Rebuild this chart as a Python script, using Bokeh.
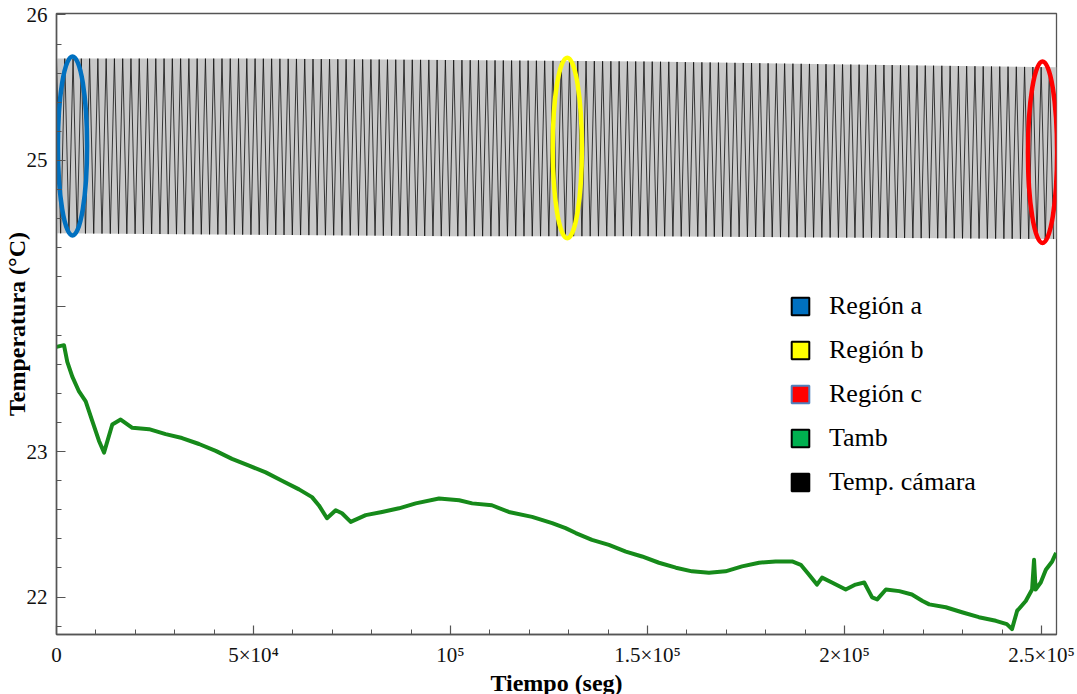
import numpy as np
from bokeh.plotting import figure
from bokeh.models import FixedTicker, Legend, LegendItem, Range1d
from bokeh.embed import file_html
from bokeh.resources import INLINE

# ---------------- data ----------------
# Ambient temperature (green), time in s, temperature in °C
tamb_t = [0, 1900, 2740, 4010, 5710, 7410, 9090, 10790, 12060, 14160,
          16290, 19240, 23480, 27710, 31850, 36170, 40400, 44540, 48860, 53100,
          57230, 61550, 64850, 66600, 68650, 70860, 72460, 74670, 78480, 82610,
          86930, 91170, 97080, 102200, 105500, 110500, 114800, 120700, 125800, 129200,
          131800, 135900, 140200, 144500, 148600, 152900, 157200, 161300, 165600, 169800,
          174000, 178300, 182500, 186700, 188900, 191000, 193000, 194300, 196800, 200300,
          202800, 205000, 207000, 208300, 210500, 213900, 217100, 219800, 221500, 225700,
          229800, 234100, 238400, 241200, 242500, 243800, 246000, 247600, 248100, 248500,
          249800, 251100, 252700, 253700]
tamb_T = [23.719, 23.731, 23.617, 23.515, 23.413, 23.345, 23.209, 23.073, 22.993, 23.186,
          23.220, 23.163, 23.154, 23.120, 23.093, 23.052, 23.005, 22.950, 22.903, 22.857,
          22.800, 22.740, 22.687, 22.630, 22.542, 22.597, 22.576, 22.517, 22.563, 22.585,
          22.610, 22.644, 22.678, 22.665, 22.644, 22.631, 22.585, 22.551, 22.508, 22.474,
          22.440, 22.393, 22.359, 22.313, 22.279, 22.236, 22.202, 22.177, 22.168, 22.177,
          22.211, 22.236, 22.245, 22.245, 22.222, 22.154, 22.086, 22.134, 22.100, 22.052,
          22.086, 22.100, 21.998, 21.984, 22.052, 22.041, 22.018, 21.973, 21.950, 21.930,
          21.896, 21.862, 21.837, 21.814, 21.780, 21.905, 21.973, 22.052, 22.256, 22.052,
          22.100, 22.188, 22.245, 22.304]

# Chamber temperature (black): oscillation envelope and spacing of extremes
cam_env_t = [0, 50000, 100000, 150000, 200000, 253800]
cam_upper = [25.70, 25.70, 25.69, 25.68, 25.66, 25.64]
cam_lower = [24.50, 24.49, 24.48, 24.48, 24.47, 24.46]
cam_half_period = 1050  # s between a maximum and the next minimum

# Marked regions (ellipses)
region_names = ["Región a", "Región b", "Región c"]
region_t = [4060, 129640, 250250]
region_T = [25.100, 25.086, 25.057]
region_dt = [7400, 7400, 7400]
region_dT = [1.23, 1.24, 1.25]
region_colors = ["#0070C0", "#FFFF00", "#FF0000"]

# Legend
legend_labels = ["Región a", "Región b", "Región c", "Tamb", "Temp. cámara"]
legend_fill = ["#0070C0", "#FFFF00", "#FF0000", "#00B050", "#000000"]
legend_edge = ["#000000", "#000000", "#4F81BD", "#000000", "#000000"]

# Axis ticks
x_major = [0, 50000, 100000, 150000, 200000, 250000]
x_labels = ["0", "5×10⁴", "10⁵", "1.5×10⁵", "2×10⁵", "2.5×10⁵"]
x_minor = [k * 10000 for k in range(0, 26)]
y_major = [22, 23, 24, 25, 26]
y_labels = ["22", "23", "", "25", "26"]
y_minor = [round(21.8 + 0.2 * k, 1) for k in range(0, 22)]

FONT = "Liberation Serif"
AXC = "#555555"

# ---------------- figure ----------------
p = figure(frame_width=1000, frame_height=621,
           x_range=Range1d(0, 253800), y_range=Range1d(21.743, 26.01),
           output_backend="svg", toolbar_location=None,
           min_border_left=56, min_border_right=19, min_border_top=13, min_border_bottom=0,
           background_fill_color="white", border_fill_color="white")
p.xgrid.visible = False
p.ygrid.visible = False
p.outline_line_color = AXC
p.outline_line_width = 1.3

# chamber temperature band + oscillation
p.varea(x=cam_env_t, y1=cam_lower, y2=cam_upper, fill_color="#c8c8c8", fill_alpha=1.0)
tk = np.arange(0, cam_env_t[-1], cam_half_period)
up = np.interp(tk, cam_env_t, cam_upper)
lo = np.interp(tk, cam_env_t, cam_lower)
osc = np.where(np.arange(len(tk)) % 2 == 0, up, lo)
p.line(tk, osc, line_color="#111111", line_width=0.9, line_alpha=0.9)

# ambient temperature
p.line(tamb_t, tamb_T, line_color="#168a1a", line_width=4, line_join="round")

# region ellipses
p.ellipse(x=region_t, y=region_T, width=region_dt, height=region_dT,
          fill_alpha=0, line_color=region_colors, line_width=4.5)

# legend with square swatches (renderers hold a single NaN point, never drawn)
nan = float("nan")
items = []
for lab, fc, ec in zip(legend_labels, legend_fill, legend_edge):
    r = p.quad(left=[nan], right=[nan], top=[nan], bottom=[nan], fill_color=fc,
               line_color=ec, line_width=2)
    items.append(LegendItem(label=lab, renderers=[r]))
legend = Legend(items=items, location=(733, 137), glyph_width=22, glyph_height=22,
                spacing=14, label_standoff=18, padding=0, margin=0,
                border_line_alpha=0, background_fill_alpha=0,
                label_text_font=FONT, label_text_font_size="26px", label_height=22,
                label_text_color="#000000")
p.add_layout(legend)

# axes
xa = p.xaxis[0]
ya = p.yaxis[0]
xa.ticker = FixedTicker(ticks=x_major, minor_ticks=x_minor)
ya.ticker = FixedTicker(ticks=y_major, minor_ticks=y_minor)
xa.major_label_overrides = {v: s for v, s in zip(x_major, x_labels)}
ya.major_label_overrides = {v: s for v, s in zip(y_major, y_labels)}
for ax in (xa, ya):
    ax.axis_line_color = AXC
    ax.axis_line_width = 1.5
    ax.major_tick_line_color = AXC
    ax.minor_tick_line_color = AXC
    ax.major_tick_line_width = 1.2
    ax.minor_tick_line_width = 1.0
    ax.major_tick_in = 9
    ax.major_tick_out = 0
    ax.minor_tick_in = 5
    ax.minor_tick_out = 0
    ax.major_label_text_font = FONT
    ax.major_label_text_font_size = "21px"
    ax.major_label_text_color = "#111111"
    ax.axis_label_text_font = FONT
    ax.axis_label_text_font_style = "bold"
    ax.axis_label_text_font_size = "24px"
    ax.axis_label_text_color = "#000000"
xa.axis_label = "Tiempo (seg)"
ya.axis_label = "Temperatura (°C)"
xa.major_label_standoff = 8
xa.axis_label_standoff = 0
ya.major_label_standoff = 9
ya.axis_label_standoff = -6

open("out.html", "w").write(file_html(p, INLINE))
